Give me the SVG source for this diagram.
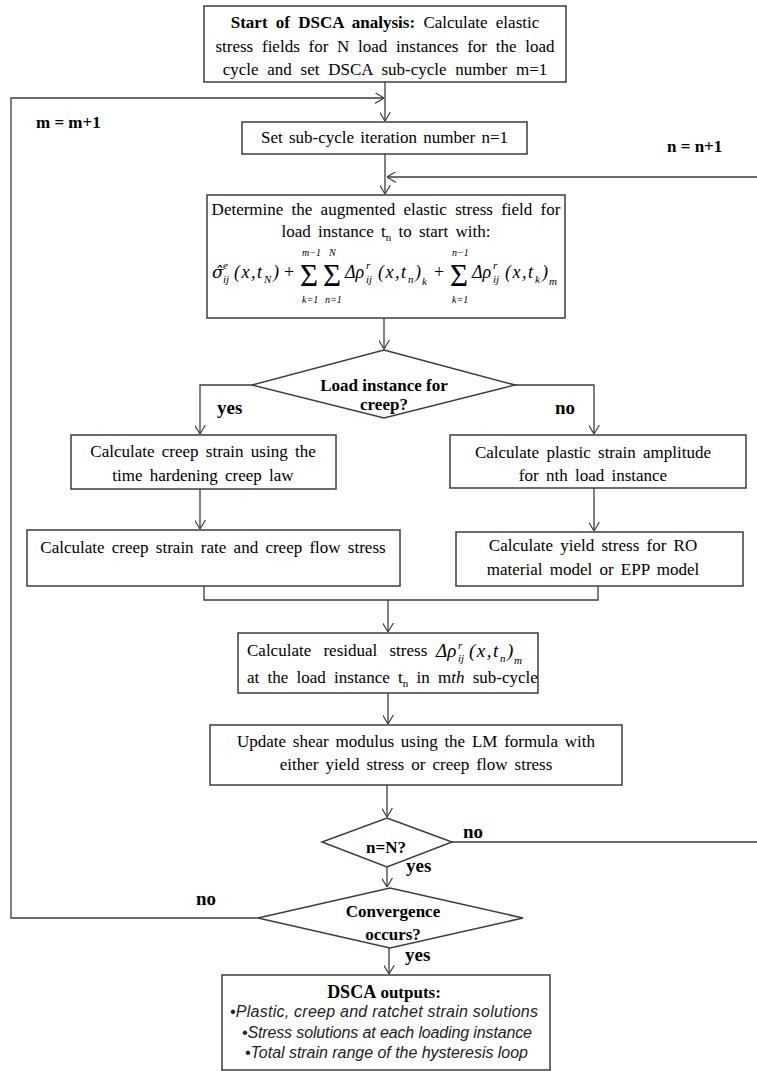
<svg xmlns="http://www.w3.org/2000/svg" width="757" height="1071" viewBox="0 0 757 1071">
<style>
.box{fill:#fff;stroke:#3c3c3c;stroke-width:1.5}
.ln{fill:none;stroke:#3c3c3c;stroke-width:1.3}
.t{font-family:"Liberation Serif","Times New Roman",serif;font-size:17px;fill:#000;word-spacing:3px}
.c{text-anchor:middle}
.b{font-family:"Liberation Serif","Times New Roman",serif;font-size:17px;font-weight:bold;fill:#000}
.lab{font-family:"Liberation Serif","Times New Roman",serif;font-size:19px;font-weight:bold;fill:#000}
.m{font-family:"Liberation Serif","Times New Roman",serif;font-style:italic;fill:#000}
.s{font-size:11px}
.big{font-size:31px;font-style:normal}
.lim{font-size:10px}
.o{font-family:"Liberation Sans",Arial,sans-serif;font-style:italic;font-size:16px;fill:#222}
</style>
<defs>
<marker id="ah" viewBox="0 0 10 12" refX="10" refY="6" markerWidth="9" markerHeight="11" markerUnits="userSpaceOnUse" orient="auto">
<path d="M0,0 L10,6 L0,12" fill="none" stroke="#3c3c3c" stroke-width="1.3"/>
</marker>
</defs>

<g id="connectors">
<line class="ln" x1="385" y1="82" x2="385" y2="121" marker-end="url(#ah)"/>
<polyline class="ln" points="258,918 11,918 11,98 384,98" marker-end="url(#ah)"/>
<line class="ln" x1="385" y1="154" x2="385" y2="194" marker-end="url(#ah)"/>
<polyline class="ln" points="452,842 762,842 762,177 387,177" marker-end="url(#ah)"/>
<line class="ln" x1="384" y1="318" x2="384" y2="349" marker-end="url(#ah)"/>
<polyline class="ln" points="252,385 200,385 200,434" marker-end="url(#ah)"/>
<polyline class="ln" points="515,385 594,385 594,434" marker-end="url(#ah)"/>
<line class="ln" x1="200" y1="489" x2="200" y2="529" marker-end="url(#ah)"/>
<line class="ln" x1="594" y1="488" x2="594" y2="531" marker-end="url(#ah)"/>
<polyline class="ln" points="204,586 204,600 598,600 598,586"/>
<line class="ln" x1="388" y1="600" x2="388" y2="632" marker-end="url(#ah)"/>
<line class="ln" x1="388" y1="693" x2="388" y2="724" marker-end="url(#ah)"/>
<line class="ln" x1="387" y1="785" x2="387" y2="817" marker-end="url(#ah)"/>
<line class="ln" x1="387" y1="867" x2="387" y2="887" marker-end="url(#ah)"/>
<line class="ln" x1="389" y1="948" x2="389" y2="974" marker-end="url(#ah)"/>
<text class="b" x="36" y="128">m = m+1</text>
<text class="b" x="667" y="152">n = n+1</text>
<text class="lab" x="217" y="414">yes</text>
<text class="lab" x="555" y="414">no</text>
<text class="lab" x="463" y="838">no</text>
<text class="lab" x="406" y="872">yes</text>
<text class="lab" x="196" y="905">no</text>
<text class="lab" x="405" y="961">yes</text>
</g>

<g id="start">
<rect class="box" x="204" y="6" width="362" height="76"/>
<text class="t c" x="385" y="28" style="word-spacing:4px"><tspan font-weight="bold">Start of DSCA analysis:</tspan> Calculate elastic</text>
<text class="t c" x="385" y="52" style="word-spacing:4.5px">stress fields for N load instances for the load</text>
<text class="t c" x="385" y="75" style="word-spacing:4.5px">cycle and set DSCA sub-cycle number m=1</text>
</g>

<g id="set-n">
<rect class="box" x="242" y="122" width="285" height="32"/>
<text class="t c" x="384.5" y="143" style="word-spacing:2px">Set sub-cycle iteration number n=1</text>
</g>

<g id="augmented">
<rect class="box" x="207" y="195" width="358" height="123"/>
<text class="t c" x="386" y="215" style="word-spacing:4px">Determine the augmented elastic stress field for</text>
<text class="t c" x="386" y="237">load instance t<tspan font-size="11" dy="4">n</tspan><tspan dy="-4"> to start with:</tspan></text>
<text class="m" font-size="18"><tspan x="212" y="278" font-family="'DejaVu Serif',serif" font-size="17">σ̂</tspan><tspan class="s" x="223" y="269">e</tspan><tspan class="s" x="223" y="283">ij</tspan><tspan x="234" y="278" letter-spacing="1.5">(x,t</tspan><tspan class="s" x="264" y="283">N</tspan><tspan x="273" y="278">)</tspan><tspan x="284" y="278" font-style="normal">+</tspan><tspan class="big" x="300" y="286">Σ</tspan><tspan class="lim" x="302" y="256">m−1</tspan><tspan class="lim" x="302" y="303">k=1</tspan><tspan class="big" x="323" y="286">Σ</tspan><tspan class="lim" x="329" y="256">N</tspan><tspan class="lim" x="325" y="303">n=1</tspan><tspan x="345" y="278">Δρ</tspan><tspan class="s" x="366" y="269">r</tspan><tspan class="s" x="366" y="283">ij</tspan><tspan x="378" y="278" letter-spacing="1.5">(x,t</tspan><tspan class="s" x="408" y="283">n</tspan><tspan x="415" y="278">)</tspan><tspan class="s" x="422" y="285">k</tspan><tspan x="434" y="278" font-style="normal">+</tspan><tspan class="big" x="450" y="286">Σ</tspan><tspan class="lim" x="452" y="256">n−1</tspan><tspan class="lim" x="452" y="303">k=1</tspan><tspan x="472" y="278">Δρ</tspan><tspan class="s" x="493" y="269">r</tspan><tspan class="s" x="493" y="283">ij</tspan><tspan x="505" y="278" letter-spacing="1.5">(x,t</tspan><tspan class="s" x="535" y="283">k</tspan><tspan x="542" y="278">)</tspan><tspan class="s" x="549" y="285">m</tspan></text>
</g>

<g id="decision-creep">
<polygon class="box" points="384,350 515,385 384,418 252,385"/>
<text class="b c" x="384" y="391">Load instance for</text>
<text class="b c" x="384" y="410">creep?</text>
</g>

<g id="creep-strain">
<rect class="box" x="71" y="435" width="265" height="54"/>
<text class="t c" x="203" y="457">Calculate creep strain using the</text>
<text class="t c" x="203" y="481">time hardening creep law</text>
</g>

<g id="plastic-strain">
<rect class="box" x="450" y="435" width="296" height="53"/>
<text class="t c" x="593" y="458">Calculate plastic strain amplitude</text>
<text class="t c" x="593" y="481">for nth load instance</text>
</g>

<g id="creep-rate">
<rect class="box" x="27" y="530" width="373" height="56"/>
<text class="t c" x="213" y="553">Calculate creep strain rate and creep flow stress</text>
</g>

<g id="yield-stress">
<rect class="box" x="456" y="532" width="287" height="54"/>
<text class="t c" x="593" y="551">Calculate yield stress for RO</text>
<text class="t c" x="593" y="575">material model or EPP model</text>
</g>

<g id="residual">
<rect class="box" x="238" y="633" width="300" height="60"/>
<text class="t" x="247" y="656" style="word-spacing:8px">Calculate residual stress</text>
<text class="m" font-size="19"><tspan x="436" y="657">Δρ</tspan><tspan class="s" x="458" y="649">r</tspan><tspan class="s" x="458" y="662">ij</tspan><tspan x="469" y="657" letter-spacing="1.5">(x,t</tspan><tspan class="s" x="500" y="662">n</tspan><tspan x="507" y="657">)</tspan><tspan class="s" x="514" y="664">m</tspan></text>
<text class="t" x="247" y="683" style="word-spacing:4px">at the load instance t<tspan font-size="11" dy="4">n</tspan><tspan dy="-4"> in m</tspan><tspan font-style="italic">th</tspan> sub-cycle</text>
</g>

<g id="update-shear">
<rect class="box" x="210" y="725" width="412" height="60"/>
<text class="t c" x="416" y="747" style="word-spacing:2.5px">Update shear modulus using the LM formula with</text>
<text class="t c" x="416" y="770" style="word-spacing:2.8px">either yield stress or creep flow stress</text>
</g>

<g id="decision-n">
<polygon class="box" points="387,818 452,842 387,867 322,842"/>
<text class="b c" x="386" y="853">n=N?</text>
</g>

<g id="decision-convergence">
<polygon class="box" points="390,888 523,918 390,948 258,918"/>
<text class="b c" x="393" y="917">Convergence</text>
<text class="b c" x="393" y="940">occurs?</text>
</g>

<g id="outputs">
<rect class="box" x="222" y="975" width="328" height="95"/>
<text class="b c" x="384" y="998"><tspan font-size="18">DSCA</tspan> outputs:</text>
<text class="o" x="230" y="1017" textLength="308" lengthAdjust="spacing">•Plastic, creep and ratchet strain solutions</text>
<text class="o" x="242" y="1038" textLength="290" lengthAdjust="spacing">•Stress solutions at each loading instance</text>
<text class="o" x="245" y="1058" textLength="283" lengthAdjust="spacing">•Total strain range of the hysteresis loop</text>
</g>
</svg>
